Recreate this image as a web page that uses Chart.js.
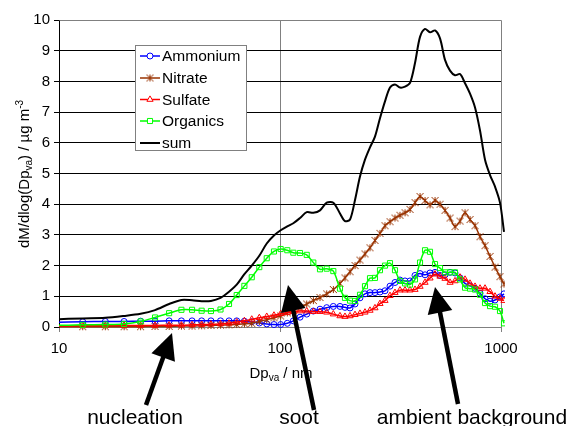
<!DOCTYPE html>
<html>
<head>
<meta charset="utf-8">
<script src="https://cdn.jsdelivr.net/npm/chart.js@4/dist/chart.umd.min.js"></script>
<style>
  html, body { margin: 0; padding: 0; background: #fff; }
  #wrap { width: 571px; height: 426px; position: relative; }
</style>
</head>
<body>
<div id="wrap"><canvas id="c" width="571" height="426"></canvas></div>
<script>
// Vacuum aerodynamic diameter bins (nm)
const diameters = [9.5, 12.8, 16.2, 19.7, 23.4, 27.2, 31.5, 35.8, 40.0, 44.2,
  48.7, 53.8, 58.8, 63.7, 69.0, 74.5, 80.6, 87.1, 93.9, 100.7,
  107.9, 114.9, 123.2, 132.1, 141.5, 151.7, 162.7, 174.3, 186.8, 196.8,
  207.4, 218.5, 230.1, 242.4, 255.4, 269.0, 283.4, 298.6, 314.6, 331.4,
  349.1, 367.8, 387.5, 408.2, 430.1, 453.1, 477.3, 502.8, 529.7, 558.0,
  587.9, 619.3, 652.5, 687.4, 724.1, 762.9, 803.6, 846.6, 891.9, 939.6,
  989.6, 1031.7];

// Mass size distributions dM/dlog(Dva), µg m-3
const ammonium = [0.15, 0.17, 0.18, 0.18, 0.19, 0.19, 0.20, 0.20, 0.20, 0.20,
  0.20, 0.20, 0.20, 0.20, 0.19, 0.17, 0.13, 0.10, 0.08, 0.08,
  0.12, 0.20, 0.32, 0.42, 0.52, 0.58, 0.63, 0.67, 0.67, 0.64,
  0.62, 0.75, 0.95, 1.08, 1.12, 1.12, 1.14, 1.18, 1.33, 1.45,
  1.53, 1.50, 1.50, 1.68, 1.74, 1.70, 1.76, 1.78, 1.68, 1.70,
  1.78, 1.76, 1.60, 1.42, 1.34, 1.26, 1.10, 0.92, 0.84, 0.88,
  0.98, 1.08];

const nitrate = [0.01, 0.01, 0.01, 0.01, 0.01, 0.02, 0.02, 0.03, 0.03, 0.04,
  0.05, 0.06, 0.07, 0.08, 0.10, 0.12, 0.18, 0.24, 0.30, 0.36,
  0.46, 0.56, 0.64, 0.75, 0.86, 0.96, 1.08, 1.22, 1.42, 1.60,
  1.80, 2.00, 2.18, 2.38, 2.58, 2.82, 3.05, 3.30, 3.43, 3.55,
  3.64, 3.72, 3.83, 4.05, 4.25, 4.12, 3.98, 4.12, 4.00, 3.80,
  3.55, 3.27, 3.45, 3.72, 3.50, 3.30, 2.94, 2.65, 2.30, 1.95,
  1.64, 1.40];

const sulfate = [0.03, 0.04, 0.04, 0.05, 0.05, 0.05, 0.06, 0.06, 0.07, 0.08,
  0.09, 0.10, 0.12, 0.16, 0.20, 0.25, 0.30, 0.34, 0.38, 0.43,
  0.47, 0.50, 0.52, 0.52, 0.50, 0.50, 0.48, 0.42, 0.36, 0.34,
  0.36, 0.40, 0.44, 0.48, 0.54, 0.62, 0.76, 0.86, 1.02, 1.12,
  1.20, 1.20, 1.20, 1.22, 1.32, 1.45, 1.59, 1.72, 1.65, 1.58,
  1.45, 1.50, 1.62, 1.55, 1.42, 1.32, 1.26, 1.26, 1.15, 1.00,
  0.93, 0.86];

const organics = [0.05, 0.07, 0.08, 0.10, 0.18, 0.31, 0.45, 0.56, 0.56, 0.53,
  0.52, 0.57, 0.75, 1.04, 1.34, 1.62, 1.95, 2.24, 2.46, 2.54,
  2.50, 2.42, 2.41, 2.35, 2.10, 1.88, 1.90, 1.82, 1.25, 0.95,
  0.86, 0.85, 1.05, 1.33, 1.59, 1.60, 1.85, 2.00, 2.08, 1.85,
  1.50, 1.42, 1.38, 1.55, 2.10, 2.50, 2.45, 2.05, 1.92, 1.78,
  1.78, 1.78, 1.55, 1.28, 1.25, 1.22, 1.05, 0.78, 0.68, 0.66,
  0.52, 0.12];

const total = [0.25, 0.28, 0.30, 0.36, 0.43, 0.55, 0.75, 0.88, 0.87, 0.84,
  0.85, 0.95, 1.15, 1.38, 1.72, 2.00, 2.32, 2.72, 2.98, 3.15,
  3.28, 3.38, 3.55, 3.74, 3.72, 3.80, 4.05, 4.05, 3.70, 3.45,
  3.50, 4.14, 4.90, 5.45, 5.85, 6.20, 6.80, 7.35, 7.80, 7.90,
  7.80, 7.83, 7.95, 8.60, 9.45, 9.71, 9.60, 9.66, 9.40, 8.70,
  8.35, 8.20, 8.24, 7.94, 7.60, 7.15, 6.40, 5.45, 4.95, 4.57,
  4.05, 3.10];

const xTicks = [10, 100, 1000];
const yTicks = [0, 1, 2, 3, 4, 5, 6, 7, 8, 9, 10];
const seriesNames = ['Ammonium', 'Nitrate', 'Sulfate', 'Organics', 'sum'];

const FONT = '"Liberation Sans", Arial, Helvetica, sans-serif';
const BROWN = '#993300';

// Asterisk-like marker (x with a vertical bar)
function starMarker(color, r) {
  const c = document.createElement('canvas');
  const s = Math.ceil(r * 2 + 2);
  c.width = s; c.height = s;
  const g = c.getContext('2d');
  g.strokeStyle = color; g.lineWidth = 1;
  const m = s / 2;
  g.beginPath();
  g.moveTo(m - r, m - r); g.lineTo(m + r, m + r);
  g.moveTo(m - r, m + r); g.lineTo(m + r, m - r);
  g.moveTo(m, m - r); g.lineTo(m, m + r);
  g.stroke();
  return c;
}
const nitrateMarker = starMarker(BROWN, 3.5);

const pts = vals => diameters.map((d, i) => ({ x: d, y: vals[i] }));
const clipBox = { left: 0, top: 5, right: 4, bottom: 6 };

function series(label, vals, color, style, order, extra) {
  return Object.assign({
    label, data: pts(vals), borderColor: color, backgroundColor: 'rgba(0,0,0,0)',
    borderWidth: 1.5, pointStyle: style, pointRadius: 3.3, pointBorderWidth: 1,
    pointBorderColor: color, pointBackgroundColor: 'rgba(0,0,0,0)',
    tension: 0.3, order, clip: clipBox
  }, extra || {});
}

const datasets = [
  series(seriesNames[0], ammonium, '#0000ff', 'circle', 5, { pointRadius: 3 }),
  series(seriesNames[1], nitrate, BROWN, nitrateMarker, 4),
  series(seriesNames[2], sulfate, '#ff0000', 'triangle', 3, { pointRadius: 3.6 }),
  series(seriesNames[3], organics, '#00ff00', 'rect', 2, { pointRadius: 3.6 }),
  series(seriesNames[4], total, '#000000', 'line', 1, { pointRadius: 0, borderWidth: 2 })
];

// Draws a run of text pieces (normal / sub / sup) starting at x on baseline y
function pieces(ctx, parts, x, y) {
  let cx = x;
  parts.forEach(p => {
    ctx.font = p.size + 'px ' + FONT;
    ctx.fillText(p.t, cx, y + (p.dy || 0));
    cx += ctx.measureText(p.t).width;
  });
}
function piecesWidth(ctx, parts) {
  let w = 0;
  parts.forEach(p => { ctx.font = p.size + 'px ' + FONT; w += ctx.measureText(p.t).width; });
  return w;
}

function arrow(ctx, x0, y0, x1, y1) {
  const dx = x1 - x0, dy = y1 - y0, L = Math.hypot(dx, dy);
  const ux = dx / L, uy = dy / L, nx = -uy, ny = ux;
  const head = 26, half = 12.5;
  const bx = x1 - ux * head, by = y1 - uy * head;
  ctx.strokeStyle = '#000'; ctx.fillStyle = '#000';
  ctx.lineWidth = 4.5; ctx.lineCap = 'butt';
  ctx.beginPath(); ctx.moveTo(x0, y0); ctx.lineTo(bx + ux * 2, by + uy * 2); ctx.stroke();
  ctx.beginPath();
  ctx.moveTo(x1, y1);
  ctx.lineTo(bx + nx * half, by + ny * half);
  ctx.lineTo(bx - nx * half, by - ny * half);
  ctx.closePath(); ctx.fill();
}

const framePlugin = {
  id: 'frame',
  beforeDatasetsDraw(chart) {
    const { ctx, chartArea: a } = chart;
    ctx.save();
    ctx.strokeStyle = '#808080'; ctx.lineWidth = 1;
    ctx.beginPath();
    ctx.moveTo(Math.round(a.left) + 0.5, Math.round(a.top) + 0.5);
    ctx.lineTo(Math.round(a.right) + 0.5, Math.round(a.top) + 0.5);
    ctx.lineTo(Math.round(a.right) + 0.5, Math.round(a.bottom) + 0.5);
    ctx.stroke();
    ctx.restore();
  }
};

const decorPlugin = {
  id: 'decor',
  afterDraw(chart) {
    const ctx = chart.ctx;
    ctx.save();
    ctx.fillStyle = '#000';
    ctx.textBaseline = 'alphabetic';
    ctx.textAlign = 'left';

    // y-axis title
    const yt = [
      { t: 'dM/dlog(Dp', size: 15 }, { t: 'va', size: 10, dy: 3 },
      { t: ') / \u00b5g m', size: 15 }, { t: '-3', size: 10, dy: -6 }
    ];
    ctx.save();
    ctx.translate(29, 174);
    ctx.rotate(-Math.PI / 2);
    pieces(ctx, yt, -piecesWidth(ctx, yt) / 2, 0);
    ctx.restore();

    // x-axis title
    const xt = [{ t: 'Dp', size: 15 }, { t: 'va', size: 10, dy: 3 }, { t: ' / nm', size: 15 }];
    pieces(ctx, xt, 281 - piecesWidth(ctx, xt) / 2, 378);

    // legend
    const lx = 135.5, ly = 45.5, lw = 111, lh = 105;
    ctx.fillStyle = '#fff';
    ctx.fillRect(lx, ly, lw, lh);
    ctx.strokeStyle = '#808080'; ctx.lineWidth = 1;
    ctx.strokeRect(lx, ly, lw, lh);
    const rowY = [56, 78, 99.5, 121, 143];
    chart.data.datasets.forEach((ds, i) => {
      const y = rowY[i];
      ctx.strokeStyle = ds.borderColor; ctx.lineWidth = ds.borderWidth;
      ctx.beginPath(); ctx.moveTo(140, y); ctx.lineTo(160, y); ctx.stroke();
      if (ds.pointRadius > 0) {
        ctx.lineWidth = 1;
        ctx.fillStyle = '#fff';
        ctx.strokeStyle = ds.borderColor;
        Chart.helpers.drawPoint(ctx, {
          pointStyle: ds.pointStyle, radius: ds.pointRadius, borderWidth: 1, rotation: 0
        }, 150, y);
      }
      ctx.fillStyle = '#000';
      ctx.font = '15.5px ' + FONT;
      ctx.textBaseline = 'middle';
      ctx.fillText(ds.label, 162, y + 1);
    });

    // annotations under the plot
    arrow(ctx, 146, 405, 172, 333);
    arrow(ctx, 314, 410, 288, 285);
    arrow(ctx, 458, 404, 435, 287);
    ctx.fillStyle = '#000';
    ctx.font = '21px ' + FONT;
    ctx.textBaseline = 'alphabetic';
    ctx.textAlign = 'center';
    ctx.fillText('nucleation', 135, 424);
    ctx.fillText('soot', 299, 424);
    ctx.fillText('ambient background', 472, 424);
    ctx.restore();
  }
};

new Chart(document.getElementById('c'), {
  type: 'line',
  data: { datasets },
  plugins: [framePlugin, decorPlugin],
  options: {
    responsive: false,
    animation: false,
    events: [],
    layout: { padding: { left: 0, top: 20, right: 70, bottom: 0 } },
    plugins: { legend: { display: false }, tooltip: { enabled: false } },
    scales: {
      x: {
        type: 'logarithmic', min: 10, max: 1000,
        afterBuildTicks: s => { s.ticks = xTicks.map(v => ({ value: v })); },
        afterFit: s => { s.height = 99; },
        ticks: {
          color: '#000', font: { family: FONT, size: 15 }, padding: 8,
          maxRotation: 0, autoSkip: false, callback: v => String(v)
        },
        grid: {
          color: c => (c.tick && c.tick.value === 100 ? '#808080' : 'rgba(0,0,0,0)'),
          tickColor: '#808080', tickLength: 5, lineWidth: 1
        },
        border: { color: '#808080', width: 1 }
      },
      y: {
        type: 'linear', min: 0, max: 10,
        afterBuildTicks: s => { s.ticks = yTicks.map(v => ({ value: v })); },
        afterFit: s => { s.width = 59; },
        ticks: { color: '#000', font: { family: FONT, size: 15 }, padding: 4 },
        grid: {
          color: c => (c.tick && (c.tick.value === 0 || c.tick.value === 10) ? '#808080' : '#000'),
          tickColor: '#000', tickLength: 5, lineWidth: 1
        },
        border: { color: '#000', width: 1 }
      }
    }
  }
});
</script>
</body>
</html>
